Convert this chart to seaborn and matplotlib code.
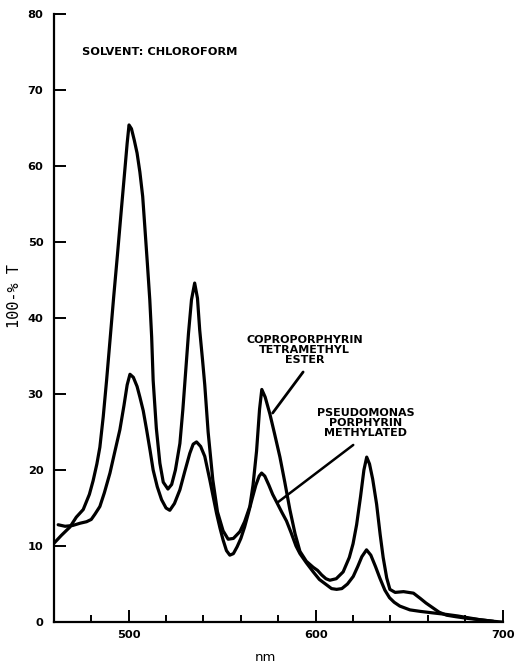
import matplotlib
matplotlib.use("Agg")
import matplotlib.pyplot as plt
import seaborn as sns
import pandas as pd
from matplotlib.ticker import FixedLocator

# ---- data ----
copro_nm = [460, 464, 468.6, 472, 475.7, 479, 481, 483, 484.6, 486.4, 488.2, 490, 492, 494, 496,
            498, 499.2, 500.2, 501.5, 503, 504.5, 506, 507.5, 508.7, 510, 511.3, 512.3, 513.1,
            514.8, 516.7, 518.5, 521, 523, 525, 527.4, 529, 530.5, 532, 533.6, 535.3, 536.8,
            538, 539.5, 540.7, 542.5, 545, 547.5, 550.5, 553.2, 556, 559.5, 562, 564.8, 566.5,
            568.4, 570, 571.2, 573, 575.5, 578, 580.9, 583.5, 586.2, 589, 591.6, 595, 598.7,
            601, 603.2, 605.5, 607.6, 611, 614.7, 618, 620, 621.9, 624, 625.8, 627.3, 628.8,
            630.5, 632.6, 634.5, 636.1, 638, 639.7, 642.5, 647, 652.3, 656, 659, 662.5, 666,
            670, 675, 680.7, 688, 695, 699.5]
copro_val = [10.35, 11.4, 12.5, 13.8, 14.8, 16.8, 18.6, 20.8, 23.0, 27.0, 31.8, 37.0, 42.8, 48.3, 54.0,
             59.6, 63.0, 65.4, 64.9, 63.4, 61.7, 59.2, 56.0, 51.8, 47.2, 42.4, 37.5, 31.8,
             25.5, 20.9, 18.4, 17.5, 18.1, 20.0, 23.5, 28.0, 33.0, 38.0, 42.4, 44.6, 42.6,
             38.4, 34.5, 31.2, 25.0, 18.7, 14.5, 12.0, 10.9, 11.0, 11.9, 13.2, 15.2, 18.0,
             22.5, 28.0, 30.6, 29.6, 27.4, 24.8, 21.7, 18.4, 14.8, 11.6, 9.3, 8.0, 7.2,
             6.8, 6.2, 5.7, 5.5, 5.7, 6.6, 8.5, 10.3, 12.8, 16.5, 20.0, 21.7, 20.8,
             18.8, 15.5, 11.5, 8.5, 5.8, 4.3, 3.9, 4.0, 3.8, 3.1, 2.5, 1.9, 1.3,
             0.9, 0.7, 0.5, 0.3, 0.1, 0.0]

pseudo_nm = [462.3, 466, 470, 474, 477.5, 480, 482, 484.6, 487, 490, 492.5, 495.3, 497.5, 499.2,
             500.7, 502.5, 504.5, 506, 507.8, 509.6, 511.5, 513.1, 515.3, 517.6, 520, 522,
             524.5, 527.4, 530, 532.7, 534.5, 536.3, 538.5, 540.7, 543.4, 545.2, 547, 548.8,
             550.5, 552.3, 554.1, 556, 558, 560, 562, 564, 566, 568, 569.8, 571.1, 572.8, 575,
             577, 579.1, 582, 584.4, 586.8, 589.5, 591.6, 595, 598.7, 602, 605.8, 608.5, 611.2,
             614, 617, 620.1, 622.5, 624.7, 627.2, 629.5, 632, 634.3, 637, 639.5, 642, 645,
             650.4, 656, 662.8, 670, 676, 680.7, 688, 695]
pseudo_val = [12.8, 12.6, 12.7, 13.0, 13.2, 13.5, 14.2, 15.2, 17.0, 19.6, 22.3, 25.3, 28.5, 31.2,
              32.6, 32.2, 31.0, 29.6, 27.8, 25.3, 22.5, 20.0, 17.8, 16.1, 15.0, 14.7,
              15.6, 17.4, 19.8, 22.2, 23.4, 23.7, 23.1, 21.8, 18.7, 16.5, 14.3, 12.4,
              10.8, 9.4, 8.8, 9.0, 9.9, 11.0, 12.5, 14.3, 16.2, 18.0, 19.2, 19.6, 19.2, 18.0,
              16.8, 15.8, 14.4, 13.3, 11.8, 10.0, 9.0, 7.8, 6.6, 5.6, 4.9, 4.4, 4.3,
              4.4, 5.0, 6.0, 7.3, 8.6, 9.5, 8.8, 7.3, 5.8, 4.2, 3.2, 2.6, 2.1,
              1.6, 1.4, 1.2, 1.0, 0.8, 0.6, 0.3, 0.1]

y_ticks = [0, 10, 20, 30, 40, 50, 60, 70, 80]
x_major = [500, 600, 700]
x_minor = [480, 520, 540, 560, 580, 620, 640, 660, 680]

copro_label = "COPROPORPHYRIN\nTETRAMETHYL\nESTER"
pseudo_label = "PSEUDOMONAS\nPORPHYRIN\nMETHYLATED"
solvent_label = "SOLVENT: CHLOROFORM"

# ---- plot ----
sns.set_style("ticks")
plt.rcParams['font.family'] = ['DejaVu Sans']
plt.rcParams['text.color'] = 'black'
plt.rcParams['axes.labelcolor'] = 'black'
plt.rcParams['xtick.color'] = 'black'
plt.rcParams['ytick.color'] = 'black'

fig = plt.figure(figsize=(5.28, 6.66), dpi=100)
ax = fig.add_axes([0.102, 0.066, 0.850, 0.913])

df_a = pd.DataFrame({"nm": copro_nm, "v": copro_val})
df_b = pd.DataFrame({"nm": pseudo_nm, "v": pseudo_val})
sns.lineplot(data=df_a, x="nm", y="v", ax=ax, color="black", lw=2.3, sort=False,
             estimator=None, solid_capstyle="round", solid_joinstyle="round")
sns.lineplot(data=df_b, x="nm", y="v", ax=ax, color="black", lw=2.3, sort=False,
             estimator=None, solid_capstyle="round", solid_joinstyle="round")

ax.set_xlim(460, 700)
ax.set_ylim(0, 80)
ax.set_yticks(y_ticks)
ax.set_yticklabels([str(t) for t in y_ticks], fontweight="bold", fontsize=8.2, color="black")
ax.xaxis.set_major_locator(FixedLocator(x_major))
ax.xaxis.set_minor_locator(FixedLocator(x_minor))
ax.set_xticklabels([str(t) for t in x_major], fontweight="bold", fontsize=8.2, color="black")

ax.tick_params(axis="both", which="major", direction="in", length=8.5, width=1.4,
               color="black", labelcolor="black", left=True, bottom=True)
ax.tick_params(axis="y", which="major", pad=7.5)
ax.tick_params(axis="x", which="major", pad=6)
ax.tick_params(axis="x", which="minor", direction="in", length=5.2, width=1.4,
               color="black", bottom=True)

for s in ["top", "right"]:
    ax.spines[s].set_visible(False)
for s in ["left", "bottom"]:
    ax.spines[s].set_linewidth(1.6)
    ax.spines[s].set_color("black")

ax.set_xlabel("nm", fontsize=9.5, family="DejaVu Sans", color="black")
ax.xaxis.set_label_coords(0.472, -0.059)
ax.xaxis.label.set_va("center")
ax.set_ylabel("100-% T", fontsize=11, family="DejaVu Sans Mono", color="black")
ax.yaxis.set_label_coords(-0.087, 0.536)
ax.yaxis.label.set_va("center")

ax.text(475.3, 75.0, solvent_label, fontsize=8.2, fontweight="bold", ha="left", va="center",
        color="black")

ax.text(594.2, 35.8, copro_label, fontsize=8.0, fontweight="bold", ha="center", va="center",
        linespacing=1.05, color="black")
ax.text(626.8, 26.2, pseudo_label, fontsize=8.0, fontweight="bold", ha="center", va="center",
        linespacing=1.05, color="black")

ax.annotate("", xy=(577.0, 27.5), xytext=(593.3, 32.9),
            arrowprops=dict(arrowstyle="-", lw=2.0, color="black", shrinkA=0, shrinkB=0))
ax.annotate("", xy=(580.0, 15.8), xytext=(620.1, 23.3),
            arrowprops=dict(arrowstyle="-", lw=1.8, color="black", shrinkA=0, shrinkB=0))

fig.savefig("out.png", dpi=100, facecolor="white")
